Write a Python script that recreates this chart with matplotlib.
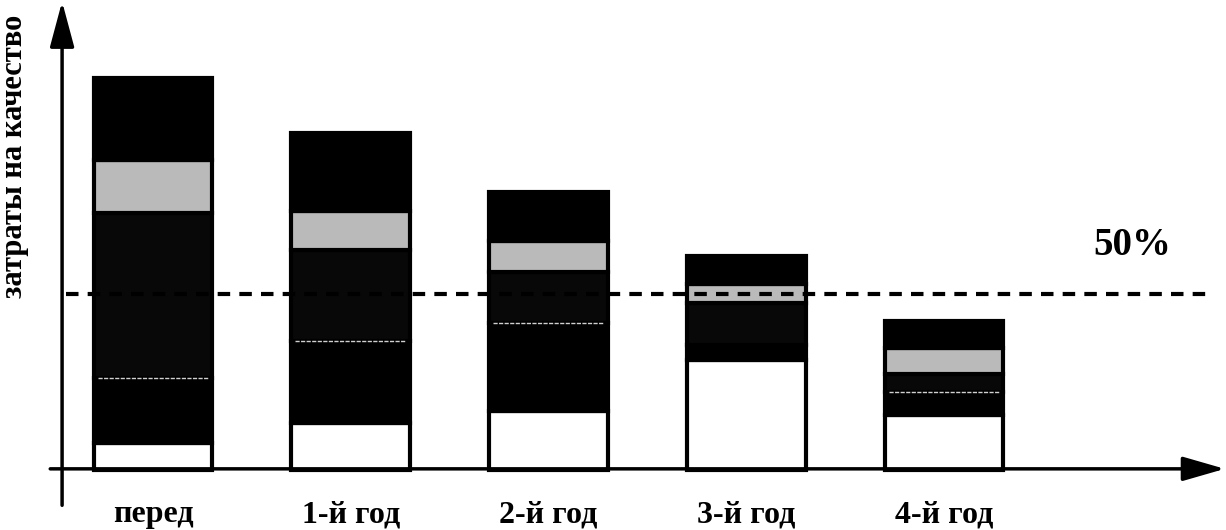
import matplotlib.pyplot as plt

# stages and stacked segments (bottom -> top), relative units
stages = ['перед', '1-й год', '2-й год', '3-й год', '4-й год']
seg_white = [7, 12, 15, 28, 14]
seg_black = [16.5, 21, 22.5, 4, 6]
seg_dark = [42, 23, 13, 10.5, 4.5]
seg_light = [13.5, 10, 8, 5, 6.5]
seg_top = [21, 20, 12.5, 7, 7]
level_50 = 45

segments = [(seg_white, 'white'), (seg_black, 'black'), (seg_dark, '#080808'),
            (seg_light, '#bababa'), (seg_top, 'black')]

fig = plt.figure(figsize=(12.26, 5.30), dpi=100)
ax = fig.add_axes([0, 0, 1, 1])
ax.set_xlim(-0.774, 5.426)
ax.set_ylim(-15.3, 119.9)
ax.axis('off')

x = list(range(len(stages)))
bottom = [0] * len(stages)
for vals, color in segments:
    ax.bar(x, vals, width=0.6, bottom=bottom, color=color,
           edgecolor='black', linewidth=3, zorder=2)
    bottom = [b + v for b, v in zip(bottom, vals)]

# thin light seam between lower black block and dark block
for i in x:
    if i == 3:
        continue
    y = seg_white[i] + seg_black[i]
    ax.hlines(y, i - 0.28, i + 0.28, color='#d0d0d0', lw=1, ls=(0, (3, 1)), zorder=3)

# axes drawn as arrows
ax.annotate('', xy=(5.42, 0.3), xytext=(-0.52, 0.3), annotation_clip=False,
            arrowprops=dict(arrowstyle='-|>,head_length=2.6,head_width=0.75',
                            color='black', lw=2.5, shrinkA=0, shrinkB=0), zorder=4)
ax.annotate('', xy=(-0.46, 119.5), xytext=(-0.46, -9), annotation_clip=False,
            arrowprops=dict(arrowstyle='-|>,head_length=2.8,head_width=0.75',
                            color='black', lw=2.5, shrinkA=0, shrinkB=0), zorder=4)

# 50% line
ax.hlines(level_50, -0.44, 5.35, color='black', lw=3, ls=(0, (3, 2.2)), zorder=3)
ax.text(4.95, 57.4, '50%', fontsize=28, fontweight='bold',
        family='Liberation Serif', ha='center', va='center')

for i, s in enumerate(stages):
    ax.text(i, -11.4, s, fontsize=23, fontweight='bold', family='Liberation Serif',
            ha='center', va='center')

ax.text(-0.7, 80, 'затраты на качество', rotation=90, fontsize=22, fontweight='bold',
        family='Liberation Serif', ha='center', va='center')

fig.savefig('out.png', dpi=100)
